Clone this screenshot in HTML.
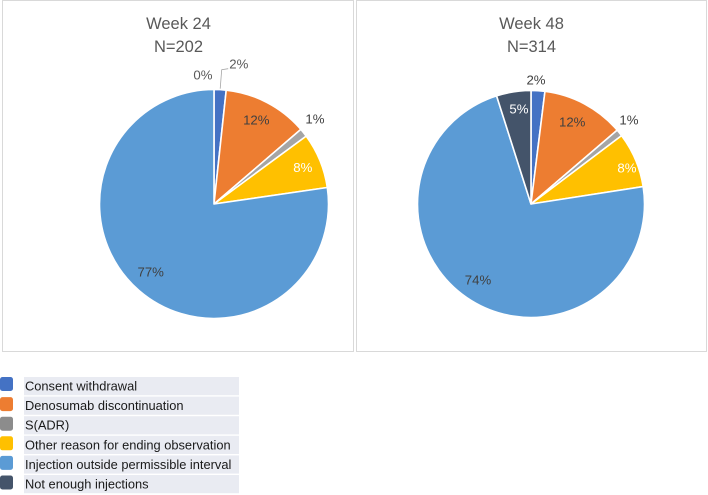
<!DOCTYPE html>
<html lang="en">
<head>
<meta charset="utf-8">
<title>Reasons for ending observation at Week 24 and Week 48</title>
<style>
html,body{margin:0;padding:0;background:#fff;width:708px;height:495px;overflow:hidden}
svg{display:block}
text{font-family:"Liberation Sans",Arial,sans-serif}
</style>
</head>
<body>
<svg id="chart" width="708" height="495" viewBox="0 0 708 495" xmlns="http://www.w3.org/2000/svg">
  <rect x="2.5" y="0.5" width="351" height="351" fill="#fff" stroke="#d9d9d9"/>
  <rect x="356.5" y="0.5" width="350" height="351" fill="#fff" stroke="#d9d9d9"/>
  <text x="178.5" y="29" text-anchor="middle" font-size="16.5" fill="#595959">Week 24</text>
  <text x="178.5" y="52" text-anchor="middle" font-size="16.5" fill="#595959">N=202</text>
  <text x="531.5" y="29" text-anchor="middle" font-size="16.5" fill="#595959">Week 48</text>
  <text x="531.5" y="52" text-anchor="middle" font-size="16.5" fill="#595959">N=314</text>
  <g id="pie-24"></g>
  <g id="pie-48"></g>
  <g id="legend"></g>
</svg>
<script>
// Chart data
const categories = ['Consent withdrawal', 'Denosumab discontinuation', 'S(ADR)', 'Other reason for ending observation', 'Injection outside permissible interval', 'Not enough injections'];
const week24Zero = 0;
const week24Values = [1.7, 12, 1.2, 7.8, 77.3, 0];
const week24Printed = ['2%', '12%', '1%', '8%', '77%', ''];
const week48Values = [2, 12, 1, 8, 74, 5];
const week48Printed = ['2%', '12%', '1%', '8%', '74%', '5%'];
const zeroLabel = '0%';

// Appearance
const colors = ['#4472c4', '#ed7d31', '#a5a5a5', '#ffc000', '#5b9bd5', '#44546a'];
const legendColors = ['#4472c4', '#ed7d31', '#8c8c8c', '#ffc000', '#5b9bd5', '#44546a'];
const NS = 'http://www.w3.org/2000/svg';

function polar(cx, cy, r, deg) {
  const a = deg * Math.PI / 180;
  return [cx + r * Math.sin(a), cy - r * Math.cos(a)];
}

function drawLabel(group, x, y, str, fill, name) {
  const t = document.createElementNS(NS, 'text');
  
  
  t.setAttribute('x', x.toFixed(1));
  t.setAttribute('y', (y + 4.5).toFixed(1));
  t.setAttribute('text-anchor', 'middle');
  t.setAttribute('font-size', '13.2');
  t.setAttribute('fill', fill);
  t.textContent = str;
  group.appendChild(t);
}

function drawPie(groupId, prefix, cx, cy, r, values, printed, labelRadii, labelShifts, labelFills) {
  const group = document.getElementById(groupId);
  const total = values.reduce(function (a, b) { return a + b; }, 0);
  const mids = [];
  let cum = 0;
  values.forEach(function (v, i) {
    const start = cum / total * 360;
    cum += v;
    const end = cum / total * 360;
    mids.push((start + end) / 2);
    if (v <= 0) return;
    const p0 = polar(cx, cy, r, start);
    const p1 = polar(cx, cy, r, end);
    const large = end - start > 180 ? 1 : 0;
    const path = document.createElementNS(NS, 'path');
    
    
    path.setAttribute('d', 'M' + cx + ' ' + cy + 'L' + p0[0].toFixed(2) + ' ' + p0[1].toFixed(2) +
      'A' + r + ' ' + r + ' 0 ' + large + ' 1 ' + p1[0].toFixed(2) + ' ' + p1[1].toFixed(2) + 'Z');
    path.setAttribute('fill', colors[i]);
    path.setAttribute('stroke', '#fff');
    path.setAttribute('stroke-width', '1.6');
    path.setAttribute('stroke-linejoin', 'round');
    group.appendChild(path);
  });
  printed.forEach(function (str, i) {
    if (!str) return;
    const p = polar(cx, cy, labelRadii[i], mids[i] + labelShifts[i]);
    drawLabel(group, p[0], p[1], str, labelFills[i], prefix + '-label-' + (i + 1));
  });
  return mids;
}

const mids24 = drawPie('pie-24', 'week-24', 214, 204, 114.5, week24Values, week24Printed,
  [142, 94, 132, 96, 93, 0], [7, -1, -1.6, 0, 2, 0],
  ['#595959', '#404040', '#404040', '#ffffff', '#404040', '#404040']);

const pie24 = document.getElementById('pie-24');
const zeroPos = polar(214, 204, 129.5, week24Zero - 4.9);
drawLabel(pie24, zeroPos[0], zeroPos[1], zeroLabel, '#595959', 'week-24-label-zero');

const lead = polar(214, 204, 115.5, mids24[0]);
const leader = document.createElementNS(NS, 'polyline');


leader.setAttribute('points', lead[0].toFixed(1) + ',' + lead[1].toFixed(1) + ' ' + (lead[0] + 1.5).toFixed(1) + ',' + (lead[1] - 19).toFixed(1) + ' ' + (lead[0] + 8).toFixed(1) + ',' + (lead[1] - 20).toFixed(1));
leader.setAttribute('fill', 'none');
leader.setAttribute('stroke', '#a6a6a6');
leader.setAttribute('stroke-width', '0.8');
pie24.appendChild(leader);

drawPie('pie-48', 'week-48', 531, 204, 113.5, week48Values, week48Printed,
  [124, 92, 129, 102.5, 92.7, 96], [-1.2, -1.6, -1.8, 2.3, 3.1, 1.6],
  ['#404040', '#404040', '#404040', '#ffffff', '#404040', '#ffffff']);

// Legend
const legend = document.getElementById('legend');
categories.forEach(function (label, i) {
  const top = 377 + i * 19.6;
  const bg = document.createElementNS(NS, 'rect');
  
  
  bg.setAttribute('x', '24');
  bg.setAttribute('y', top.toFixed(1));
  bg.setAttribute('width', '215');
  bg.setAttribute('height', '18.2');
  bg.setAttribute('fill', '#e9ebf2');
  legend.appendChild(bg);

  const sw = document.createElementNS(NS, 'rect');
  
  
  sw.setAttribute('x', '0');
  sw.setAttribute('y', (top + 1.5 - (i === 0 ? 1.5 : 1)).toFixed(1));
  sw.setAttribute('width', '13');
  sw.setAttribute('height', '14');
  sw.setAttribute('rx', '2.5');
  sw.setAttribute('fill', legendColors[i]);
  legend.appendChild(sw);

  const t = document.createElementNS(NS, 'text');
  
  
  t.setAttribute('x', '25');
  t.setAttribute('y', (top + 13.5).toFixed(1));
  t.setAttribute('font-size', '12.85');
  t.setAttribute('fill', '#1a1a1a');
  t.textContent = label;
  legend.appendChild(t);
});
</script>
</body>
</html>
